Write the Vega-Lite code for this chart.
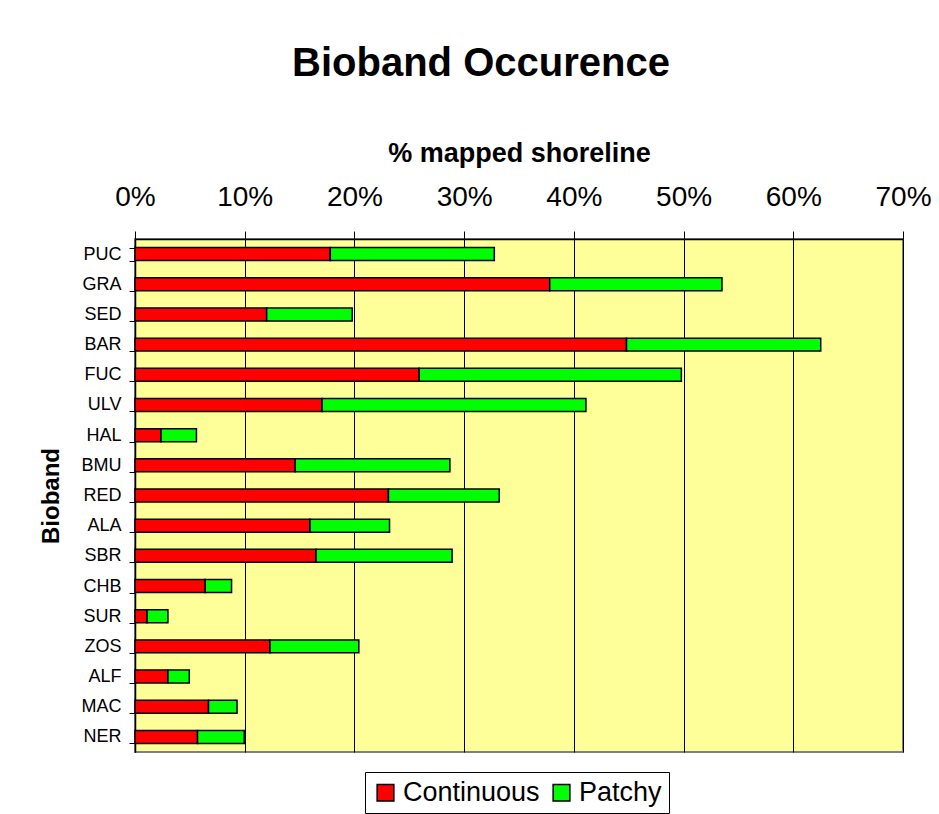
{
  "$schema": "https://vega.github.io/schema/vega-lite/v6.json",
  "autosize": "none",
  "width": 768,
  "height": 513,
  "padding": {"left": 135, "top": 239, "right": 36, "bottom": 62},
  "background": "white",
  "title": {
    "text": "Bioband Occurence",
    "font": "Liberation Sans",
    "fontSize": 40,
    "fontWeight": "bold",
    "color": "black",
    "anchor": "middle",
    "frame": "group",
    "dx": -38,
    "offset": 55
  },
  "data": {
    "values": [
      {"band": "PUC", "type": "Continuous", "value": 0.178},
      {"band": "PUC", "type": "Patchy", "value": 0.1495},
      {"band": "GRA", "type": "Continuous", "value": 0.378},
      {"band": "GRA", "type": "Patchy", "value": 0.157},
      {"band": "SED", "type": "Continuous", "value": 0.120},
      {"band": "SED", "type": "Patchy", "value": 0.078},
      {"band": "BAR", "type": "Continuous", "value": 0.448},
      {"band": "BAR", "type": "Patchy", "value": 0.177},
      {"band": "FUC", "type": "Continuous", "value": 0.259},
      {"band": "FUC", "type": "Patchy", "value": 0.239},
      {"band": "ULV", "type": "Continuous", "value": 0.1705},
      {"band": "ULV", "type": "Patchy", "value": 0.2405},
      {"band": "HAL", "type": "Continuous", "value": 0.0237},
      {"band": "HAL", "type": "Patchy", "value": 0.0323},
      {"band": "BMU", "type": "Continuous", "value": 0.146},
      {"band": "BMU", "type": "Patchy", "value": 0.141},
      {"band": "RED", "type": "Continuous", "value": 0.231},
      {"band": "RED", "type": "Patchy", "value": 0.101},
      {"band": "ALA", "type": "Continuous", "value": 0.1595},
      {"band": "ALA", "type": "Patchy", "value": 0.0725},
      {"band": "SBR", "type": "Continuous", "value": 0.165},
      {"band": "SBR", "type": "Patchy", "value": 0.124},
      {"band": "CHB", "type": "Continuous", "value": 0.064},
      {"band": "CHB", "type": "Patchy", "value": 0.024},
      {"band": "SUR", "type": "Continuous", "value": 0.011},
      {"band": "SUR", "type": "Patchy", "value": 0.019},
      {"band": "ZOS", "type": "Continuous", "value": 0.123},
      {"band": "ZOS", "type": "Patchy", "value": 0.081},
      {"band": "ALF", "type": "Continuous", "value": 0.030},
      {"band": "ALF", "type": "Patchy", "value": 0.0195},
      {"band": "MAC", "type": "Continuous", "value": 0.067},
      {"band": "MAC", "type": "Patchy", "value": 0.026},
      {"band": "NER", "type": "Continuous", "value": 0.057},
      {"band": "NER", "type": "Patchy", "value": 0.0426}
    ]
  },
  "mark": {"type": "bar", "stroke": "black", "strokeWidth": 1.5},
  "encoding": {
    "y": {
      "field": "band",
      "type": "nominal",
      "sort": null,
      "scale": {"paddingInner": 0.57, "paddingOuter": 0.285},
      "axis": {
        "title": "Bioband",
        "titleFont": "Liberation Sans",
        "titleFontSize": 24,
        "titleFontWeight": "bold",
        "titleColor": "black",
        "titlePadding": 18,
        "labelFont": "Liberation Sans",
        "labelFontSize": 18,
        "labelColor": "black",
        "labelPadding": 8,
        "tickBand": "extent",
        "tickSize": 6,
        "tickColor": "black",
        "domainColor": "black",
        "domainWidth": 1.5,
        "grid": false
      }
    },
    "x": {
      "field": "value",
      "type": "quantitative",
      "stack": "zero",
      "scale": {"domain": [0, 0.7], "nice": false},
      "axis": {
        "orient": "top",
        "values": [0, 0.1, 0.2, 0.3, 0.4, 0.5, 0.6, 0.7],
        "format": ".0%",
        "title": "% mapped shoreline",
        "titleFont": "Liberation Sans",
        "titleFontSize": 27,
        "titleFontWeight": "bold",
        "titleColor": "black",
        "titlePadding": 16,
        "labelFont": "Liberation Sans",
        "labelFontSize": 28,
        "labelColor": "black",
        "labelPadding": 20,
        "labelFlush": false,
        "labelOverlap": false,
        "tickSize": 8,
        "tickColor": "black",
        "domainColor": "black",
        "domainWidth": 1.5,
        "grid": true,
        "gridColor": "black",
        "gridWidth": 1,
        "gridOpacity": 1
      }
    },
    "color": {
      "field": "type",
      "type": "nominal",
      "scale": {"domain": ["Continuous", "Patchy"], "range": ["#FF0000", "#00FF00"]},
      "legend": {
        "title": null,
        "orient": "none",
        "direction": "horizontal",
        "legendX": 230,
        "legendY": 533,
        "symbolType": "square",
        "symbolSize": 280,
        "symbolStrokeColor": "black",
        "symbolStrokeWidth": 1.5,
        "symbolOpacity": 1,
        "labelFont": "Liberation Sans",
        "labelFontSize": 27,
        "labelColor": "black",
        "labelLimit": 300,
        "columnPadding": 8,
        "padding": 7,
        "strokeColor": "black",
        "fillColor": "white"
      }
    },
    "order": {"field": "type", "sort": "ascending"}
  },
  "config": {
    "view": {"fill": "#FFFF99", "stroke": "#808080", "strokeWidth": 2}
  }
}
